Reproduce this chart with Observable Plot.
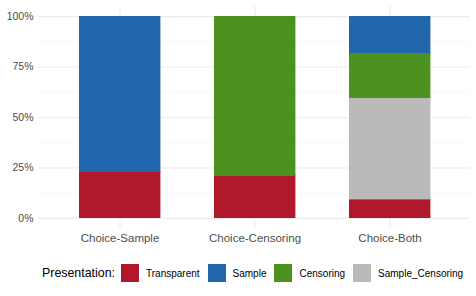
<!DOCTYPE html>
<html><head><meta charset="utf-8">
<script src="https://cdn.jsdelivr.net/npm/d3@7"></script>
<script src="https://cdn.jsdelivr.net/npm/@observablehq/plot@0.6"></script>
<style>
body{margin:0;background:#fff;font-family:"Liberation Sans",Arial,Helvetica,sans-serif;}
#chart{width:476px;height:296px;position:relative;background:#fff}
.legend{display:flex;align-items:center;height:46px;padding-left:42px;color:#000}
.legend .title{font-size:12.4px;margin-right:6px}
.legend .sw{width:18px;height:18px;margin-right:7px;flex:none}
.legend .lab{font-size:10px;margin-right:8px;white-space:nowrap}
</style></head><body><div id="chart"></div>
<script>
const categories = ["Choice-Sample", "Choice-Censoring", "Choice-Both"];
const seriesNames = ["Transparent", "Sample", "Censoring", "Sample_Censoring"];
const stackOrder = ["Transparent", "Sample_Censoring", "Censoring", "Sample"];
const seriesColors = ["#B2182B", "#2166AC", "#4D9221", "#BABABA"];
const transparentPct = [22.9, 20.9, 9.3];
const samplePct = [77.1, 0, 18.5];
const censoringPct = [0, 79.1, 22.1];
const sampleCensoringPct = [0, 0, 50.1];
const yTicks = [0, 0.25, 0.5, 0.75, 1];
const yMinorTicks = [0.125, 0.375, 0.625, 0.875];
const legendTitle = "Presentation:";

const valuesBySeries = {
  "Transparent": transparentPct,
  "Sample": samplePct,
  "Censoring": censoringPct,
  "Sample_Censoring": sampleCensoringPct
};
const rows = [];
categories.forEach((c, i) => {
  seriesNames.forEach(s => {
    const v = valuesBySeries[s][i];
    if (v > 0) rows.push({category: c, presentation: s, value: v / 100});
  });
});

const plot = Plot.plot({
  width: 476, height: 250,
  marginLeft: 38, marginRight: 6, marginTop: 6, marginBottom: 22,
  style: {fontFamily: '"Liberation Sans", Arial, Helvetica, sans-serif', background: "white", overflow: "visible"},
  x: {domain: categories, paddingInner: 0.4, paddingOuter: 0.3, label: null},
  y: {domain: [-0.05, 1.05], label: null},
  color: {domain: seriesNames, range: seriesColors},
  marks: [
    Plot.ruleY(yMinorTicks, {stroke: "#f3f3f3", strokeWidth: 0.6, strokeOpacity: 1}),
    Plot.ruleY(yTicks, {stroke: "#ebebeb", strokeWidth: 1.1, strokeOpacity: 1}),
    Plot.ruleX(categories, {x: d => d, stroke: "#ebebeb", strokeWidth: 1.1, strokeOpacity: 1}),
    Plot.barY(rows, {x: "category", y: "value", fill: "presentation", stroke: "presentation", strokeWidth: 0.4, order: stackOrder, inset: 0, shapeRendering: "crispEdges"}),
    Plot.axisY(yTicks, {tickSize: 0, tickPadding: 5, tickFormat: d => Math.round(d * 100) + "%", fontSize: 10.5, fill: "#4d4d4d", label: null}),
    Plot.axisX({tickSize: 0, tickPadding: 5, fontSize: 11.5, fill: "#4d4d4d", label: null})
  ]
});

const root = document.getElementById("chart");
root.appendChild(plot);

const legend = document.createElement("div");
legend.className = "legend";
const t = document.createElement("span");
t.className = "title";
t.textContent = legendTitle;
legend.appendChild(t);
seriesNames.forEach((s, i) => {
  const sw = document.createElement("span");
  sw.className = "sw";
  sw.style.background = seriesColors[i];
  legend.appendChild(sw);
  const lab = document.createElement("span");
  lab.className = "lab";
  lab.textContent = s;
  legend.appendChild(lab);
});
root.appendChild(legend);
</script></body></html>
